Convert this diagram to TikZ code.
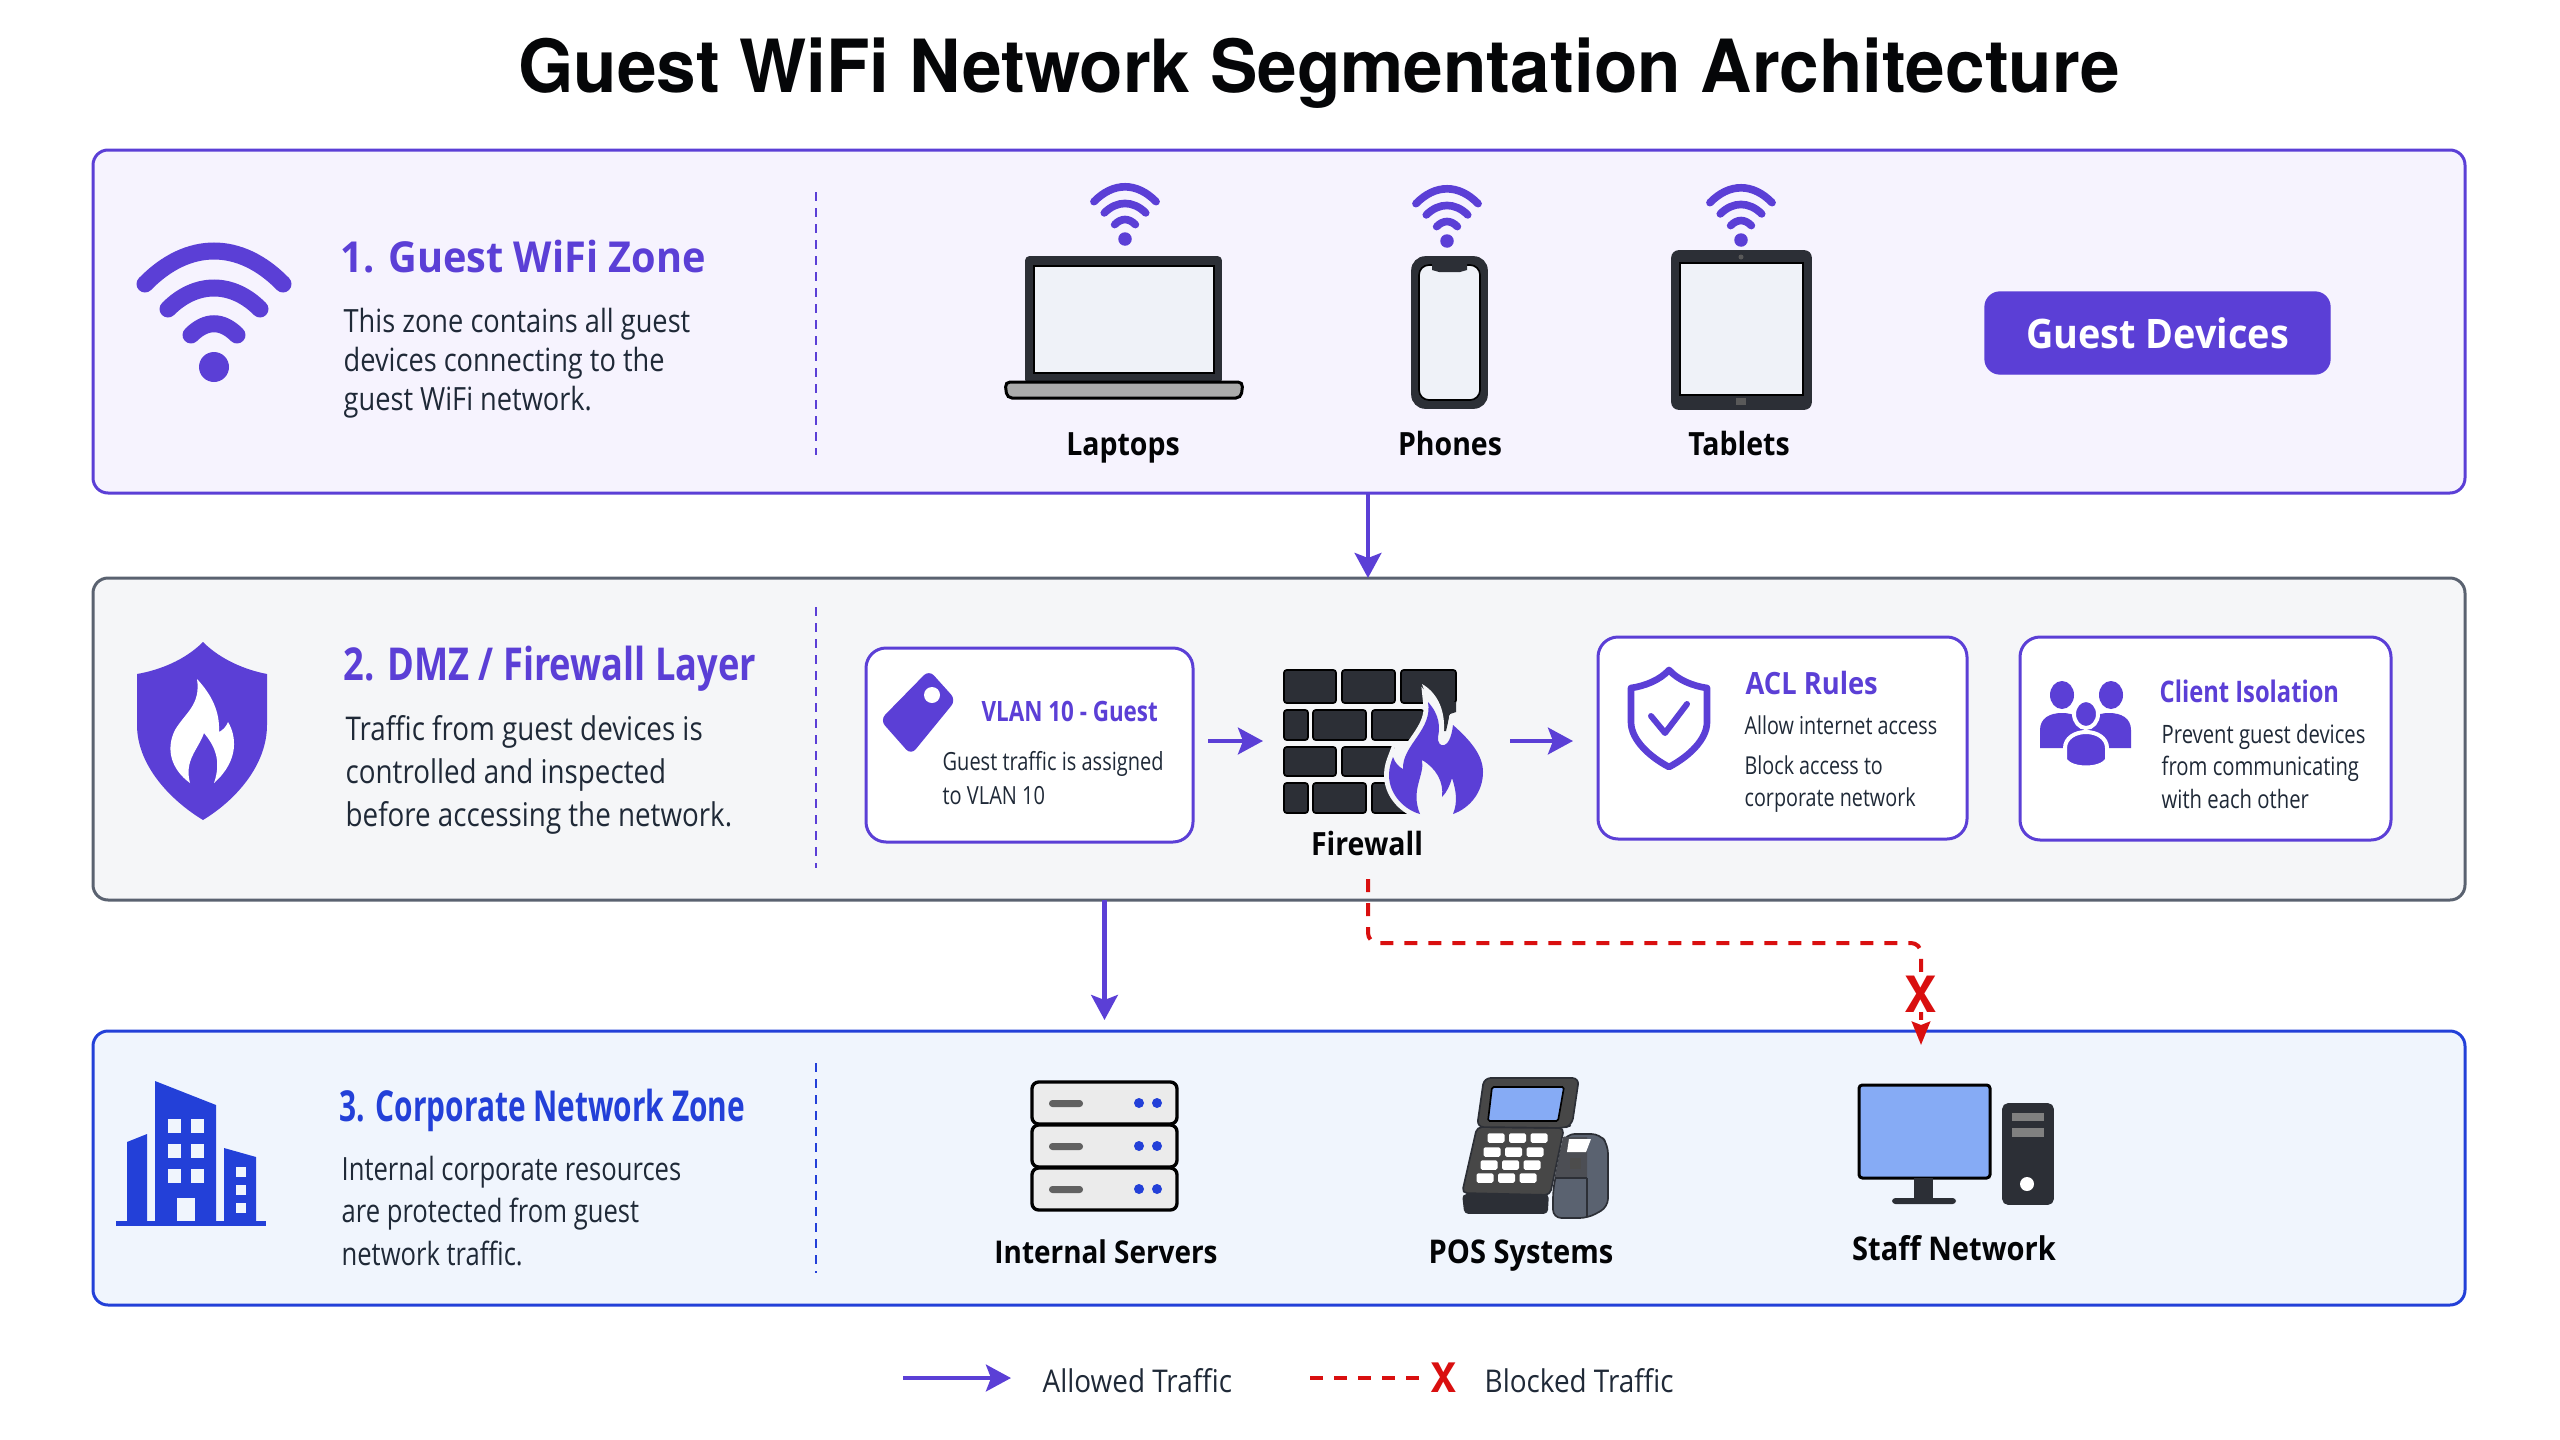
\documentclass[tikz,border=0pt]{standalone}
\usepackage{fontspec}
\usepackage{xcolor}
\usepackage{tikz}
\usetikzlibrary{arrows.meta}
\setmainfont[FakeStretch=0.8]{Open Sans}
\newfontfamily\midfont[FakeStretch=0.85]{Open Sans}
\newfontfamily\labelfont[FakeStretch=0.89]{Open Sans}
\newfontfamily\headfont[FakeStretch=0.93]{Open Sans}
\newfontfamily\narrowfont[FakeStretch=0.7]{Open Sans}
\newfontfamily\titlefont[FakeStretch=0.97]{TeX Gyre Heros}

\definecolor{guestviolet}{HTML}{5B3FD6}
\definecolor{guestfill}{HTML}{F6F3FE}
\definecolor{dmzfill}{HTML}{F5F6F8}
\definecolor{dmzline}{HTML}{5A6270}
\definecolor{corpblue}{HTML}{2340D8}
\definecolor{corpfill}{HTML}{F0F5FD}
\definecolor{inkdark}{HTML}{1F2937}
\definecolor{metal}{HTML}{2C2F36}
\definecolor{screenblue}{HTML}{86ABF5}
\definecolor{screenpale}{HTML}{EFF2F8}
\definecolor{blockred}{HTML}{D90F0F}

\tikzset{
  panel/.style={draw, rounded corners=4.5pt, line width=0.9pt, inner sep=0pt, outer sep=0pt, minimum width=711.6pt},
  cardbox/.style={draw=guestviolet, fill=white, rounded corners=6pt, line width=0.9pt, inner sep=0pt, outer sep=0pt},
  zonehead/.style={anchor=base west, inner sep=0pt},
  zonetext/.style={anchor=base west, inner sep=0pt, align=left, text=inkdark},
  cardhead/.style={anchor=base west, inner sep=0pt, text=guestviolet},
  cardtext/.style={anchor=base west, inner sep=0pt, align=left, text=inkdark},
  itemlabel/.style={anchor=base, inner sep=0pt, text=black!90!inkdark, font=\labelfont\fontsize{9.6}{11}\bfseries\selectfont},
  legendtext/.style={anchor=base west, inner sep=0pt, text=inkdark, font=\labelfont\fontsize{9.4}{11}\selectfont},
  crossmark/.style={inner sep=0pt, text=blockred, font=\titlefont\fontsize{15}{16}\bfseries\selectfont},
  divider/.style={line width=0.45pt, dash pattern=on 2.7pt off 2.1pt},
  allowed/.style={draw=guestviolet, line width=1.3pt, -{Stealth[length=7.5pt, width=8pt, inset=1.5pt]}},
  blocked/.style={draw=blockred, line width=1.2pt, dash pattern=on 3.9pt off 3.3pt},
  devicebody/.style={draw=metal, fill=metal, line width=0.5pt, line join=round},
  devicescreen/.style={draw=black, fill=screenpale, line width=0.5pt},
  brick/.style={draw=black, fill=metal, rounded corners=0.8pt, line width=0.5pt},
  wifiarc/.style={draw=guestviolet, line cap=round},
}

\newcommand{\wifimark}[3]{
  \begin{scope}[shift={(#1,#2)},scale=#3]
    \draw [wifiarc, line width=#3*5.1pt] (-69,-83) .. controls (-26,-127) and (26,-127) .. (69,-83);
    \draw [wifiarc, line width=#3*5.1pt] (-46,-58) .. controls (-18,-86) and (18,-86) .. (46,-58);
    \draw [wifiarc, line width=#3*5.1pt] (-23,-32) .. controls (-8,-47) and (8,-47) .. (23,-32);
    \fill [guestviolet] (0,0) circle (15);
  \end{scope}
}

\begin{document}
\begin{tikzpicture}[x=0.3pt,y=0.3pt,yscale=-1,xscale=1]
  \useasboundingbox (0,0) rectangle (2560,1440);

  \node [anchor=base, inner sep=0pt, text=black!85!inkdark, font=\titlefont\fontsize{22}{26}\bfseries\selectfont] (title) at (1319,92) {Guest WiFi Network Segmentation Architecture};

  % zones
  \node [panel, draw=guestviolet, fill=guestfill, minimum height=102.9pt] (guestzone) at (1279,321.5) {};
  \node [panel, draw=dmzline, fill=dmzfill, minimum height=96.6pt] (dmzzone) at (1279,739) {};
  \node [panel, draw=corpblue, fill=corpfill, minimum height=82.2pt] (corpzone) at (1279,1168) {};

  \draw [divider, guestviolet] (816,192) -- (816,455);
  \draw [divider, guestviolet] (816,607) -- (816,868);
  \draw [divider, corpblue] (816,1063) -- (816,1273);

  % guest zone
  \wifimark{214}{367}{1}
  \node [zonehead, text=guestviolet, font=\headfont\fontsize{12.8}{15}\bfseries\selectfont] (guesthead) at (340,272) {1. Guest WiFi Zone};
  \node [zonetext, font=\midfont\fontsize{9.6}{11.7}\selectfont] (guesttext) at (343,410) {This zone contains all guest\\devices connecting to the\\guest WiFi network.};

  \wifimark{1125}{239}{0.45}
  \draw [devicebody, rounded corners=1pt] (1026,383) -- (1026,257) -- (1221,257) -- (1221,383) -- cycle;
  \draw [devicescreen] (1034,266) rectangle (1214,373);
  \draw [draw=black, fill=black!33, line width=0.9pt, rounded corners=1.5pt] (1005,382) -- (1243,382) -- (1241,398) -- (1007,398) -- cycle;
  \node [itemlabel] (laptops) at (1123,455) {Laptops};

  \wifimark{1447}{241}{0.45}
  \draw [devicebody, rounded corners=4pt] (1412,257) rectangle (1487,408);
  \draw [devicescreen, rounded corners=3pt] (1419,265) rectangle (1480,400);
  \fill [metal] (1432,263) -- (1467,263) -- (1467,270) -- (1460,272) -- (1439,272) -- (1432,270) -- cycle;
  \node [itemlabel] (phones) at (1450,455) {Phones};

  \wifimark{1741}{240}{0.45}
  \draw [devicebody, rounded corners=2pt] (1672,251) rectangle (1811,409);
  \draw [devicescreen] (1680,263) rectangle (1803,395);
  \fill [black!65] (1741,257) circle (2.5);
  \fill [black!65] (1736,398) rectangle (1746,405);
  \node [itemlabel] (tablets) at (1739,455) {Tablets};

  \node [draw=guestviolet, fill=guestviolet, rounded corners=4.5pt, inner sep=0pt, minimum width=103.5pt, minimum height=24.6pt, text=white, font=\headfont\fontsize{12.2}{14}\bfseries\selectfont] (guestbadge) at (2157.5,333) {Guest Devices};

  % dmz layer
  \draw [fill=guestviolet, draw=none] (203,642) .. controls (185,660) and (160,670) .. (137,674) -- (137,725) .. controls (137,765) and (170,800) .. (203,820) .. controls (236,800) and (267,765) .. (267,725) -- (267,674) .. controls (246,670) and (221,660) .. (203,642) -- cycle;
  \fill [white] (197,679) .. controls (212,695) and (220,712) .. (219,732) .. controls (223,730) and (226,727) .. (228,722) .. controls (236,735) and (240,760) .. (214,783) .. controls (222,760) and (214,745) .. (204,733) .. controls (198,750) and (184,760) .. (190,783) .. controls (172,770) and (165,750) .. (175,730) .. controls (185,713) and (201,705) .. (197,679) -- cycle;
  \node [zonehead, text=guestviolet, font=\fontsize{13.6}{15}\bfseries\selectfont] (dmzhead) at (343,680) {2. DMZ / Firewall Layer};
  \node [zonetext, font=\midfont\fontsize{9.8}{12.9}\selectfont] (dmztext) at (345,826) {Traffic from guest devices is\\controlled and inspected\\before accessing the network.};

  \node [cardbox, minimum width=98.1pt, minimum height=58.2pt] (vlan) at (1029.5,745) {};
  \fill [guestviolet, rounded corners=2.2pt] (929,670) -- (956,700) -- (911,755) -- (880,720) -- cycle;
  \fill [white] (932,695) circle (8);
  \node [cardhead, font=\fontsize{8.4}{11}\bfseries\selectfont] (vlanhead) at (981,721) {VLAN 10 - Guest};
  \node [cardtext, font=\fontsize{7.5}{10.2}\selectfont] (vlantext) at (942,804) {Guest traffic is assigned\\to VLAN 10};

  \node [inner sep=0pt, outer sep=0pt, minimum width=59.7pt, minimum height=43.2pt] (firewall) at (1383.5,741) {};
  \foreach \xa/\xb in {1284/1336, 1342/1395, 1401/1456}
    \draw [brick] (\xa,670) rectangle (\xb,703);
  \foreach \xa/\xb in {1284/1308, 1313/1366, 1372/1424}
    \draw [brick] (\xa,710) rectangle (\xb,740);
  \foreach \xa/\xb in {1284/1336, 1342/1394}
    \draw [brick] (\xa,747) rectangle (\xb,776);
  \foreach \xa/\xb in {1284/1308, 1313/1366, 1372/1420}
    \draw [brick] (\xa,783) rectangle (\xb,813);
  \fill [metal] (1436,702) -- (1456,702) -- (1456,712) -- (1450,714) -- (1446,731) -- (1443,731) -- (1440,712) -- cycle;
  \fill [dmzfill] (1422,684) .. controls (1436,692) and (1445,708) .. (1444,730) -- (1438,730) -- (1428,702) -- cycle;
  \path [fill=guestviolet, preaction={draw=dmzfill, line width=3pt}] (1420,814) .. controls (1405,810) and (1389,795) .. (1389,775) .. controls (1389,768) and (1391,762) .. (1393,757) .. controls (1395,763) and (1399,767) .. (1403,769) .. controls (1402,745) and (1433,730) .. (1428,702) .. controls (1440,715) and (1440,728) .. (1438,737) .. controls (1437,748) and (1450,752) .. (1453,725) .. controls (1470,740) and (1483,755) .. (1483,772) .. controls (1483,792) and (1470,808) .. (1453,814) .. controls (1458,802) and (1456,790) .. (1452,778) .. controls (1450,785) and (1447,792) .. (1442,797) .. controls (1444,782) and (1436,768) .. (1422,760) .. controls (1425,775) and (1410,790) .. (1420,814) -- cycle;
  \node [itemlabel] (firewalltext) at (1367,855) {Firewall};

  \node [cardbox, minimum width=110.7pt, minimum height=60.6pt] (acl) at (1782.5,738) {};
  \draw [draw=guestviolet, line width=2pt, line join=round] (1669,670) .. controls (1660,680) and (1645,686) .. (1631,688) -- (1631,722) .. controls (1631,740) and (1650,757) .. (1669,767) .. controls (1688,757) and (1707,740) .. (1707,722) -- (1707,688) .. controls (1693,686) and (1678,680) .. (1669,670) -- cycle;
  \draw [draw=guestviolet, line width=1.8pt, line cap=round, line join=round] (1651,716) -- (1665,733) -- (1687,704);
  \node [cardhead, font=\labelfont\fontsize{9.2}{11}\bfseries\selectfont] (aclhead) at (1745,694) {ACL Rules};
  \node [cardtext, font=\fontsize{7.4}{9}\selectfont] (aclallow) at (1744,734) {Allow internet access};
  \node [cardtext, font=\fontsize{7.4}{9.6}\selectfont] (aclblock) at (1744,806) {Block access to\\corporate network};

  \node [cardbox, minimum width=111.3pt, minimum height=60.9pt] (client) at (2205.5,738.5) {};
  \fill [guestviolet] (2062,695) ellipse (12 and 14);
  \fill [guestviolet] (2111,695) ellipse (12 and 14);
  \fill [guestviolet] (2040,748) -- (2040,730) .. controls (2040,718) and (2050,713) .. (2062,713) .. controls (2074,713) and (2084,718) .. (2084,730) -- (2084,748) -- cycle;
  \fill [guestviolet] (2131,748) -- (2131,730) .. controls (2131,718) and (2121,713) .. (2109,713) .. controls (2097,713) and (2087,718) .. (2087,730) -- (2087,748) -- cycle;
  \draw [fill=guestviolet, draw=white, line width=1.2pt] (2086,714) ellipse (12 and 14);
  \draw [fill=guestviolet, draw=white, line width=1.2pt] (2065,760) -- (2065,748) .. controls (2065,738) and (2075,732) .. (2086,732) .. controls (2097,732) and (2107,738) .. (2107,748) -- (2107,760) .. controls (2100,770) and (2072,770) .. (2065,760) -- cycle;
  \node [cardhead, font=\fontsize{8.9}{11}\bfseries\selectfont] (clienthead) at (2159,702) {Client Isolation};
  \node [cardtext, font=\fontsize{7.6}{9.7}\selectfont] (clienttext) at (2161,808) {Prevent guest devices\\from communicating\\with each other};

  % corporate zone
  \fill [corpblue] (116,1221) rectangle (266,1226);
  \fill [corpblue] (155,1081) -- (216,1105) -- (216,1221) -- (155,1221) -- cycle;
  \fill [corpblue] (127,1142) -- (147,1134) -- (147,1221) -- (127,1221) -- cycle;
  \fill [corpblue] (224,1148) -- (256,1157) -- (256,1221) -- (224,1221) -- cycle;
  \foreach \wy in {1119,1144,1169}
    \foreach \wx in {168,191}
      \fill [corpfill] (\wx,\wy) rectangle ++(13,14);
  \fill [corpfill] (177,1198) rectangle (195,1221);
  \foreach \wy in {1167,1185,1203}
    \fill [corpfill] (236,\wy) rectangle ++(10,10);
  \node [zonehead, text=corpblue, font=\narrowfont\fontsize{12.8}{15}\bfseries\selectfont] (corphead) at (339,1121) {3. Corporate Network Zone};
  \node [zonetext, font=\fontsize{9.6}{12.75}\selectfont] (corptext) at (341,1265) {Internal corporate resources\\are protected from guest\\network traffic.};

  \node [inner sep=0pt, outer sep=0pt, minimum width=43.5pt, minimum height=38.7pt] (servers) at (1104.5,1146.5) {};
  \foreach \sy in {1082,1125,1168} {
    \draw [draw=black, fill=black!8, line width=1pt, rounded corners=2pt] (1032,\sy) rectangle ++(145,42);
    \fill [black!62, rounded corners=1pt] (1049,\sy+18) rectangle ++(34,7);
    \fill [corpblue] (1139,\sy+21) circle (5);
    \fill [corpblue] (1157,\sy+21) circle (5);
  }
  \node [itemlabel, font=\labelfont\fontsize{9.4}{11}\bfseries\selectfont] (serverstext) at (1106,1263) {Internal Servers};

  \draw [devicebody, rounded corners=1pt] (1463,1195) -- (1548,1195) -- (1547,1213) -- (1465,1213) -- cycle;
  \draw [devicebody, fill=black!72, rounded corners=1.5pt] (1477,1127) -- (1564,1128) -- (1550,1195) -- (1462,1193) -- cycle;
  \draw [devicebody, fill=black!72, rounded corners=2pt] (1484,1078) -- (1579,1078) -- (1572,1125) -- (1564,1128) -- (1477,1127) -- cycle;
  \draw [draw=black, fill=screenblue, line width=0.5pt, rounded corners=0.5pt] (1492,1087) -- (1564,1087) -- (1558,1121) -- (1488,1121) -- cycle;
  \foreach \ky/\kx in {1138/1496, 1152/1492, 1165/1489, 1178/1485}
    \foreach \kc in {0,1,2}
      \fill [white, rounded corners=0.5pt] (\kx+\kc*21.5-8.5,\ky-4.7) rectangle ++(17,9.5);
  \draw [devicebody, fill=dmzline, rounded corners=2.5pt] (1553,1218) -- (1553,1190) -- (1562,1145) -- (1566,1134) -- (1600,1134) -- (1608,1145) -- (1608,1207) -- (1588,1218) -- cycle;
  \fill [metal!85!white] (1563,1137) -- (1587,1137) -- (1587,1178) -- (1555,1178) -- cycle;
  \draw [metal] (1587,1178) -- (1587,1217);
  \draw [metal] (1555,1178) -- (1587,1178);
  \fill [white] (1569,1139) -- (1591,1139) -- (1586,1152) -- (1567,1152) -- cycle;
  \fill [black!70] (1570,1158) rectangle (1581,1169);
  \node [itemlabel, font=\labelfont\fontsize{9.8}{11}\bfseries\selectfont] (postext) at (1521,1263) {POS Systems};

  \draw [draw=black, fill=screenblue, line width=0.9pt, rounded corners=1pt] (1859,1085) rectangle (1990,1178);
  \fill [metal] (1914,1178) rectangle (1933,1199);
  \fill [metal, rounded corners=1pt] (1892,1198) rectangle (1956,1204);
  \draw [devicebody, rounded corners=1.5pt] (2003,1104) rectangle (2053,1204);
  \fill [black!50] (2012,1113) rectangle (2044,1121);
  \fill [black!50] (2012,1128) rectangle (2044,1137);
  \fill [white] (2027,1184) ellipse (7 and 7);
  \node [itemlabel, font=\labelfont\fontsize{9.8}{11}\bfseries\selectfont] (stafftext) at (1954,1260) {Staff Network};

  % connectors
  \coordinate (fwdrop) at (1368,879);
  \coordinate (staffdrop) at (1921,1045);
  \draw [allowed] (guestzone.south -| fwdrop) -- (dmzzone.north -| fwdrop);
  \draw [allowed, shorten <=4.5pt, shorten >=6.3pt] (vlan.east |- firewall) -- (firewall.west);
  \draw [allowed, shorten <=8.1pt, shorten >=7.5pt] (firewall.east) -- (firewall.east -| acl.west);
  \draw [allowed, shorten >=3.3pt] (dmzzone.south -| servers) -- (corpzone.north -| servers);
  \draw [blocked, rounded corners=3pt, -{Stealth[length=7pt, width=5.5pt, inset=1pt]}] (fwdrop) |- (1921,943) -- (staffdrop);
  \node [crossmark, fill=white] (blockmark) at (1921,994) {X};

  % legend
  \coordinate (allowfrom) at (903,1378);
  \coordinate (allowto) at (1011,1378);
  \coordinate (blockfrom) at (1310,1378);
  \draw [allowed] (allowfrom) -- (allowto);
  \node [legendtext] (allowtext) at (1042,1392) {Allowed Traffic};
  \node [crossmark, font=\titlefont\fontsize{12.2}{14}\bfseries\selectfont] (legendmark) at (1444,1378) {X};
  \draw [blocked, shorten >=1.5pt] (blockfrom) -- (legendmark.west);
  \node [legendtext] (blocktext) at (1484,1392) {Blocked Traffic};
\end{tikzpicture}
\end{document}
